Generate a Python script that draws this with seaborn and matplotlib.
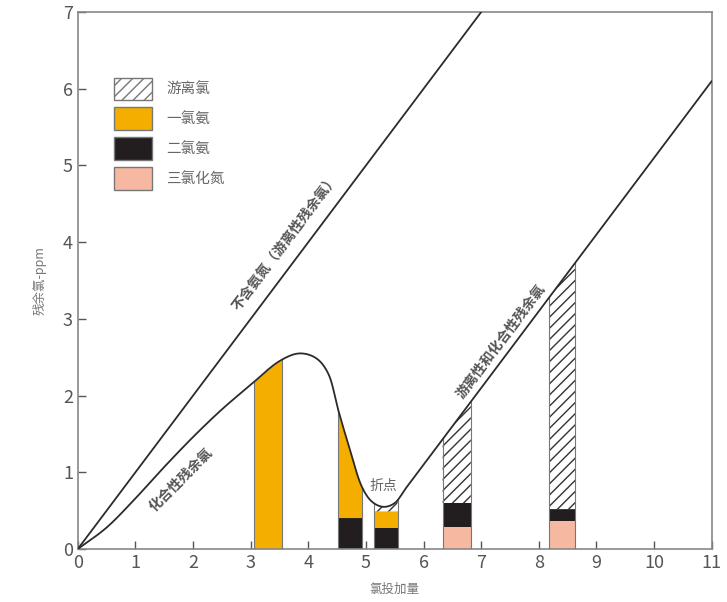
import numpy as np
import pandas as pd
import matplotlib
matplotlib.use("Agg")
import matplotlib.pyplot as plt
import seaborn as sns
from matplotlib.patches import Patch

sns.set_style("ticks")
plt.rcParams["font.family"] = ["Noto Sans CJK SC", "DejaVu Sans"]
plt.rcParams["hatch.linewidth"] = 1.0

# reference line: no ammonia (all free chlorine)
ref_x = [0, 7]
ref_y = [0, 7]

# breakpoint curve, points
curve_x = [0, 0.5, 1.0, 1.5, 2.0, 2.5, 3.0, 3.5, 3.85, 4.15, 4.35, 4.52,
           4.72, 4.93, 5.1, 5.3, 5.5, 5.7, 6.0, 7.0, 8.0, 9.0, 10.0, 11.0]
curve_y = [0, 0.28, 0.66, 1.07, 1.46, 1.82, 2.14, 2.45, 2.55, 2.48, 2.28, 1.81,
           1.3, 0.81, 0.62, 0.55, 0.6, 0.8, 1.1, 2.1, 3.1, 4.1, 5.1, 6.1]

# sampled columns: x edges and the top of each stacked layer
col_left = [3.05, 4.52, 5.14, 6.33, 8.18]
col_right = [3.55, 4.93, 5.55, 6.82, 8.63]
ncl3_top = [0.0, 0.0, 0.0, 0.29, 0.36]
nhcl2_top = [0.0, 0.41, 0.28, 0.60, 0.52]
nh2cl_top = [None, None, 0.49, 0.60, 0.52]   # None -> up to the curve

legend_labels = ["游离氯", "一氯氨", "二氯氨", "三氯化氮"]
c_orange = "#F3AE00"
c_black = "#221E1F"
c_pink = "#F7B8A2"


def smooth(px, py, n=30):
    # centripetal Catmull-Rom through the read points
    P = np.column_stack([px, py]).astype(float)
    P = np.vstack([2 * P[0] - P[1], P, 2 * P[-1] - P[-2]])
    out = []
    for i in range(1, len(P) - 2):
        p0, p1, p2, p3 = P[i - 1], P[i], P[i + 1], P[i + 2]
        t0 = 0.0
        t1 = t0 + np.linalg.norm(p1 - p0) ** 0.5
        t2 = t1 + np.linalg.norm(p2 - p1) ** 0.5
        t3 = t2 + np.linalg.norm(p3 - p2) ** 0.5
        t = np.linspace(t1, t2, n, endpoint=False)[:, None]
        a1 = (t1 - t) / (t1 - t0) * p0 + (t - t0) / (t1 - t0) * p1
        a2 = (t2 - t) / (t2 - t1) * p1 + (t - t1) / (t2 - t1) * p2
        a3 = (t3 - t) / (t3 - t2) * p2 + (t - t2) / (t3 - t2) * p3
        b1 = (t2 - t) / (t2 - t0) * a1 + (t - t0) / (t2 - t0) * a2
        b2 = (t3 - t) / (t3 - t1) * a2 + (t - t1) / (t3 - t1) * a3
        out.append((t2 - t) / (t2 - t1) * b1 + (t - t1) / (t2 - t1) * b2)
    out.append(P[-2][None, :])
    out = np.vstack(out)
    return out[:, 0], out[:, 1]


sx, sy = smooth(curve_x, curve_y)

fig, ax = plt.subplots(figsize=(7.27, 6.02), dpi=100)
fig.subplots_adjust(left=0.107, right=0.979, top=0.98, bottom=0.088)

line_df = pd.DataFrame({"x": sx, "y": sy})
ref_df = pd.DataFrame({"x": ref_x, "y": ref_y})
sns.lineplot(data=ref_df, x="x", y="y", ax=ax, color="#2b2b2b", lw=1.3, zorder=5)
sns.lineplot(data=line_df, x="x", y="y", ax=ax, color="#2b2b2b", lw=1.3, zorder=5,
             sort=False, estimator=None)


def curve_at(xs):
    return np.interp(xs, sx, sy)


for i in range(len(col_left)):
    xs = np.linspace(col_left[i], col_right[i], 40)
    top = curve_at(xs)
    z = np.zeros_like(xs)
    if ncl3_top[i] > 0:
        ax.fill_between(xs, z, ncl3_top[i], color=c_pink, lw=0, zorder=2)
    if nhcl2_top[i] > ncl3_top[i]:
        ax.fill_between(xs, ncl3_top[i], nhcl2_top[i], color=c_black, lw=0, zorder=2)
    lo = nhcl2_top[i]
    hi = top if nh2cl_top[i] is None else np.full_like(xs, nh2cl_top[i])
    if i < 3:
        ax.fill_between(xs, lo, hi, color=c_orange, lw=0, zorder=2)
    if i >= 2:
        ax.fill_between(xs, hi, top, facecolor="white", edgecolor="#333333",
                        hatch="///", lw=0, zorder=2)
    ax.plot([col_left[i]] * 2, [0, curve_at(col_left[i])], color="#777777", lw=0.8, zorder=3)
    ax.plot([col_right[i]] * 2, [0, curve_at(col_right[i])], color="#777777", lw=0.8, zorder=3)

ax.set_xlim(0, 11)
ax.set_ylim(0, 7)
ax.set_xticks(range(0, 12))
ax.set_yticks(range(0, 8))
ax.tick_params(direction="in", length=6, width=1, colors="#555555", labelsize=13,
               labelcolor="#555555")
for s in ax.spines.values():
    s.set_visible(True)
    s.set_color("#888888")
    s.set_linewidth(1.2)

ax.set_xlabel("氯投加量", fontsize=9, color="#777777", labelpad=8)
ax.set_ylabel("残余氯-ppm", fontsize=9, color="#777777", labelpad=12)

txt_kw = dict(rotation=45, transform_rotates_text=True, rotation_mode="anchor",
              ha="center", va="center", color="#555555", fontsize=10, fontweight="bold")
ax.text(3.6, 4.0, "不含氨氮（游离性残余氯）", **txt_kw)
ax.text(1.8, 0.9, "化合性残余氯", **dict(txt_kw, rotation=37))
ax.text(7.35, 2.7, "游离性和化合性残余氯", **txt_kw)
ax.text(5.3, 0.82, "折点", ha="center", va="center", color="#666666", fontsize=10)

handles = [
    Patch(facecolor="white", edgecolor="#777777", hatch="///", lw=1),
    Patch(facecolor=c_orange, edgecolor="#777777", lw=1),
    Patch(facecolor=c_black, edgecolor="#777777", lw=1),
    Patch(facecolor=c_pink, edgecolor="#777777", lw=1),
]
leg = ax.legend(handles, legend_labels, loc="upper left", bbox_to_anchor=(0.057, 0.878),
                frameon=False, fontsize=10.5, handlelength=2.6, handleheight=2.0,
                labelspacing=0.5, handletextpad=1.0, borderaxespad=0, borderpad=0)
for t in leg.get_texts():
    t.set_color("#666666")

fig.savefig("out.png", dpi=100)
